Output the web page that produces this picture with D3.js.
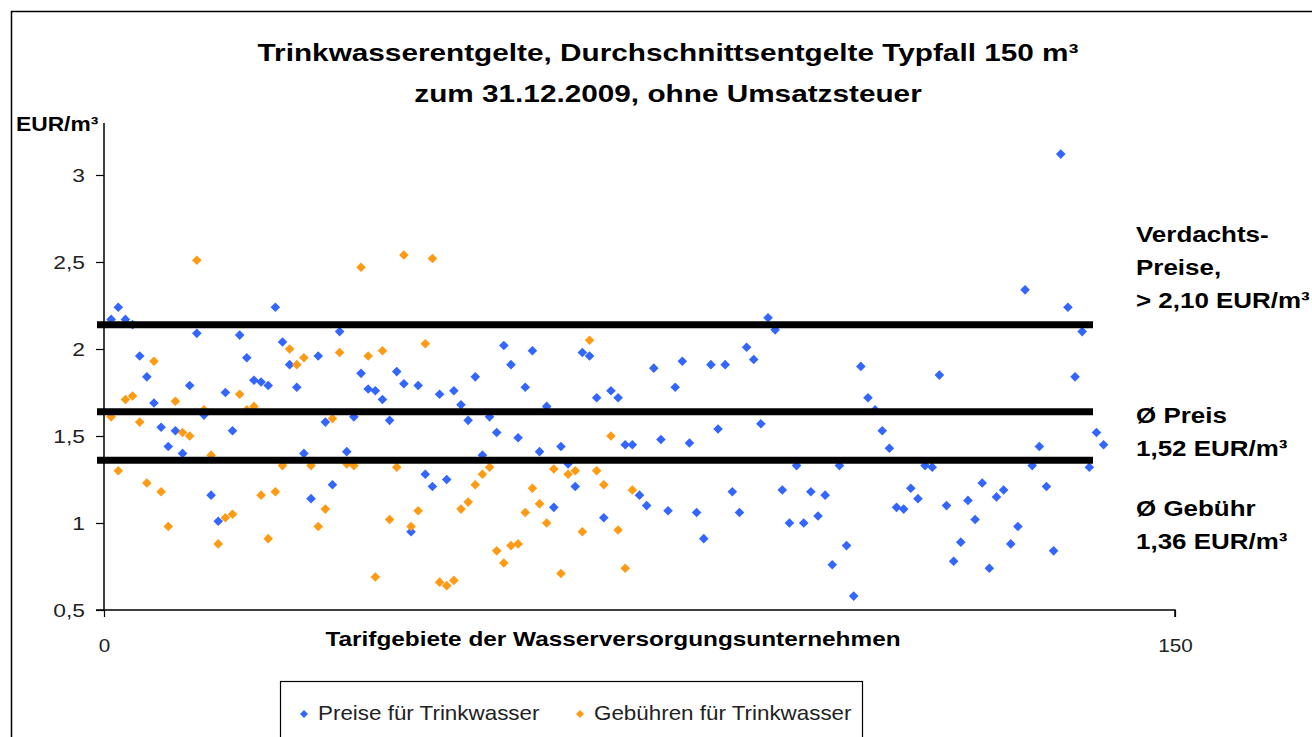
<!DOCTYPE html>
<html>
<head>
<meta charset="utf-8">
<script src="https://cdn.jsdelivr.net/npm/d3@7"></script>
<style>
  body { margin: 0; background: #fff; }
  svg { display: block; font-family: "Liberation Sans", Arial, sans-serif; }
</style>
</head>
<body>
<svg id="chart" width="1312" height="737"></svg>
<script>
// Preise (blue) – one value per Tarifgebiet, starting at index 1
const preise = [
  2.17, 2.24, 2.17, 2.14, 1.96, 1.84, 1.69, 1.55, 1.44, 1.53,
  1.40, 1.79, 2.09, 1.62, 1.16, 1.01, 1.75, 1.53, 2.08, 1.95,
  1.82, 1.81, 1.79, 2.24, 2.04, 1.91, 1.78, 1.40, 1.14, 1.96,
  1.58, 1.22, 2.10, 1.41, 1.61, 1.86, 1.77, 1.76, 1.71, 1.59,
  1.87, 1.80, 0.95, 1.79, 1.28, 1.21, 1.74, 1.25, 1.76, 1.68,
  1.59, 1.84, 1.39, 1.61, 1.52, 2.02, 1.91, 1.49, 1.78, 1.99,
  1.41, 1.67, 1.09, 1.44, 1.34, 1.21, 1.98, 1.96, 1.72, 1.03,
  1.76, 1.72, 1.45, 1.45, 1.16, 1.10, 1.89, 1.48, 1.07, 1.78,
  1.93, 1.46, 1.06, 0.91, 1.91, 1.54, 1.91, 1.18, 1.06, 2.01,
  1.94, 1.57, 2.18, 2.11, 1.19, 1.00, 1.33, 1.00, 1.18, 1.04,
  1.16, 0.76, 1.33, 0.87, 0.58, 1.90, 1.72, 1.65, 1.53, 1.43,
  1.09, 1.08, 1.20, 1.14, 1.33, 1.32, 1.85, 1.10, 0.78, 0.89,
  1.13, 1.02, 1.23, 0.74, 1.15, 1.19, 0.88, 0.98, 2.34, 1.33,
  1.44, 1.21, 0.84, 3.12, 2.24, 1.84, 2.10, 1.32, 1.52, 1.45
];
// Gebühren (orange)
const gebuehren = [
  1.61, 1.30, 1.71, 1.73, 1.58, 1.23, 1.93, 1.18, 0.98, 1.70,
  1.52, 1.50, 2.51, 1.65, 1.39, 0.88, 1.03, 1.05, 1.74, 1.65,
  1.67, 1.16, 0.91, 1.18, 1.33, 2.00, 1.91, 1.95, 1.33, 0.98,
  1.08, 1.60, 1.98, 1.34, 1.33, 2.47, 1.96, 0.69, 1.99, 1.02,
  1.32, 2.54, 0.98, 1.07, 2.03, 2.52, 0.66, 0.64, 0.67, 1.08,
  1.12, 1.22, 1.28, 1.32, 0.84, 0.77, 0.87, 0.88, 1.06, 1.20,
  1.11, 1.00, 1.31, 0.71, 1.28, 1.30, 0.95, 2.05, 1.30, 1.22,
  1.50, 0.96, 0.74, 1.19
];
const yTicks = [0.5, 1, 1.5, 2, 2.5, 3];
const xTicks = [0, 150];
const refLines = [2.14, 1.64, 1.36];
const titleLines = ['Trinkwasserentgelte, Durchschnittsentgelte Typfall 150 m³',
                    'zum 31.12.2009, ohne Umsatzsteuer'];
const notes = [
  {lines: ['Verdachts-', 'Preise,', '> 2,10 EUR/m³'], y: 242},
  {lines: ['Ø Preis', '1,52 EUR/m³'], y: 423},
  {lines: ['Ø Gebühr', '1,36 EUR/m³'], y: 516}
];
const series = [
  {name: 'Preise für Trinkwasser', color: '#3366ff', values: preise},
  {name: 'Gebühren für Trinkwasser', color: '#ff9a14', values: gebuehren}
];

const svg = d3.select('#chart');
const margin = {left: 104, right: 1175, top: 123, bottom: 610};

const x = d3.scaleLinear().domain([0, 150]).range([margin.left, margin.right]);
const y = d3.scaleLinear().domain([0.5, 3]).range([margin.bottom, 175]);

const diamond = r => `M0,${-r}L${r},0L0,${r}L${-r},0Z`;
// the original uses a wide Helvetica, so texts get a small horizontal stretch
const wide = (px, py, sx) => `translate(${px}, ${py}) scale(${sx}, 1)`;

// outer frame
svg.append('path')
    .attr('d', 'M11.5,740V11.5H1320')
    .attr('fill', 'none')
    .attr('stroke', '#000')
    .attr('stroke-width', 1.5);

// title
svg.append('g').selectAll('text')
    .data(titleLines)
    .join('text')
    .attr('transform', (d, i) => wide(668, 61 + i * 41, 1.24))
    .attr('text-anchor', 'middle')
    .style('font-weight', 'bold')
    .style('font-size', '24px')
    .text(d => d);

// y axis
const yAxis = svg.append('g')
    .attr('transform', `translate(${margin.left}, 0)`)
    .call(d3.axisLeft(y).tickValues(yTicks).tickSize(8)
        .tickFormat(d => String(d).replace('.', ',')));
yAxis.select('.domain').attr('d', `M-8,${margin.bottom}H0V${margin.top}`).attr('stroke-width', 1.5);
yAxis.selectAll('.tick line').attr('stroke-width', 1.2);
yAxis.selectAll('.tick text')
    .attr('x', null)
    .attr('transform', wide(-19, 0, 1.2))
    .style('font-size', '19px')
    .style('font-family', 'Liberation Sans, Arial')
    .attr('fill', '#222');

svg.append('text')
    .attr('transform', wide(16, 131, 1.14))
    .style('font-weight', 'bold')
    .style('font-size', '20px')
    .text('EUR/m³');

// x axis
const xAxis = svg.append('g')
    .attr('transform', `translate(0, ${margin.bottom})`)
    .call(d3.axisBottom(x).tickValues(xTicks).tickSize(7));
xAxis.select('.domain').attr('d', `M${margin.left},0H${margin.right}V7`).attr('stroke-width', 1.5);
xAxis.selectAll('.tick line').attr('stroke-width', 1.2);
xAxis.selectAll('.tick text')
    .attr('y', null)
    .attr('dy', null)
    .attr('transform', wide(0, 42, 1.15))
    .style('font-size', '18px')
    .style('font-family', 'Liberation Sans, Arial')
    .attr('fill', '#222');

svg.append('text')
    .attr('transform', wide(613, 646, 1.16))
    .attr('text-anchor', 'middle')
    .style('font-weight', 'bold')
    .style('font-size', '21px')
    .text('Tarifgebiete der Wasserversorgungsunternehmen');

// points
series.forEach(s => {
    svg.append('g').selectAll('path')
        .data(s.values)
        .join('path')
        .attr('d', diamond(4.8))
        .attr('transform', (d, i) => `translate(${x(i + 1)}, ${y(d)})`)
        .attr('fill', s.color);
});

// reference lines on top of the points
svg.append('g').selectAll('line')
    .data(refLines)
    .join('line')
    .attr('x1', 97)
    .attr('x2', 1093)
    .attr('y1', d => y(d))
    .attr('y2', d => y(d))
    .attr('stroke', '#000')
    .attr('stroke-width', 7);

// annotations on the right
notes.forEach(n => {
    svg.append('g').selectAll('text')
        .data(n.lines)
        .join('text')
        .attr('transform', (d, i) => wide(1136, n.y + i * 33, 1.18))
        .style('font-weight', 'bold')
        .style('font-size', '22px')
        .text(d => d);
});

// legend
const legend = svg.append('g');
legend.append('rect')
    .attr('x', 280.5)
    .attr('y', 681.5)
    .attr('width', 582)
    .attr('height', 80)
    .attr('fill', '#fff')
    .attr('stroke', '#000')
    .attr('stroke-width', 1.2);
const legendX = [304, 580];
series.forEach((s, i) => {
    legend.append('path')
        .attr('d', diamond(4))
        .attr('transform', `translate(${legendX[i]}, 714)`)
        .attr('fill', s.color);
    legend.append('text')
        .attr('transform', wide(legendX[i] + 14, 720, 1.12))
        .style('font-size', '20px')
        .attr('fill', '#222')
        .text(s.name);
});
</script>
</body>
</html>
